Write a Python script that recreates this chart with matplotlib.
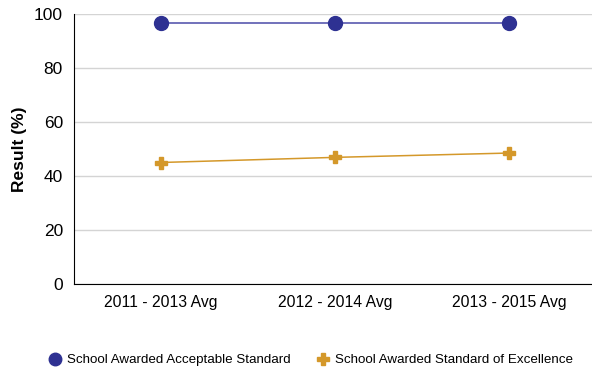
import matplotlib
matplotlib.use('Agg')
from matplotlib import pyplot as plt
from matplotlib.lines import Line2D

plt.rcParams['font.family'] = ['Liberation Sans', 'DejaVu Sans']

# data
periods = ['2011 - 2013 Avg', '2012 - 2014 Avg', '2013 - 2015 Avg']
acceptable = [96.6, 96.6, 96.6]
excellence = [45.0, 46.9, 48.5]
yticks = [0, 20, 40, 60, 80, 100]

blue = '#2e3192'
gold = '#d4982a'

fig = plt.figure(figsize=(5.92, 3.68), dpi=100)
ax = fig.add_axes([74 / 592, 1 - 284 / 368, 522 / 592, 270 / 368])

x = range(len(periods))
ax.plot(x, acceptable, color='#4a4aa8', lw=1.1, marker='o', ms=10,
        mfc=blue, mec=blue, zorder=3)
ax.plot(x, excellence, color=gold, lw=1.1, marker='P', ms=9,
        mfc=gold, mec=gold, zorder=3)

ax.set_xlim(-0.5, 2.5)
ax.set_ylim(0, 100)
ax.set_yticks(yticks)
ax.set_xticks(list(x))
ax.set_xticklabels(periods)
ax.tick_params(axis='x', length=0, labelsize=11.3, pad=8)
ax.tick_params(axis='y', length=0, labelsize=12.5, pad=8)
ax.grid(axis='y', color='#d4d4d4', lw=1)
ax.set_axisbelow(True)
ax.spines['top'].set_visible(False)
ax.spines['right'].set_visible(False)
ax.spines['left'].set_color('black')
ax.spines['bottom'].set_color('black')
ax.set_ylabel('Result (%)', fontsize=12.5, fontweight='bold')
ax.yaxis.set_label_coords(-47 / 522, 0.5)

handles = [
    Line2D([], [], ls='none', marker='o', ms=9, mfc=blue, mec=blue),
    Line2D([], [], ls='none', marker='P', ms=8, mfc=gold, mec=gold),
]
fig.legend(handles, ['School Awarded Acceptable Standard',
                     'School Awarded Standard of Excellence'],
           loc='center', bbox_to_anchor=(310 / 592, 1 - 360 / 368), ncol=2,
           frameon=False, fontsize=9.6, handletextpad=0.3, columnspacing=1.8,
           handlelength=1.2)

fig.savefig('out.png', dpi=100)
